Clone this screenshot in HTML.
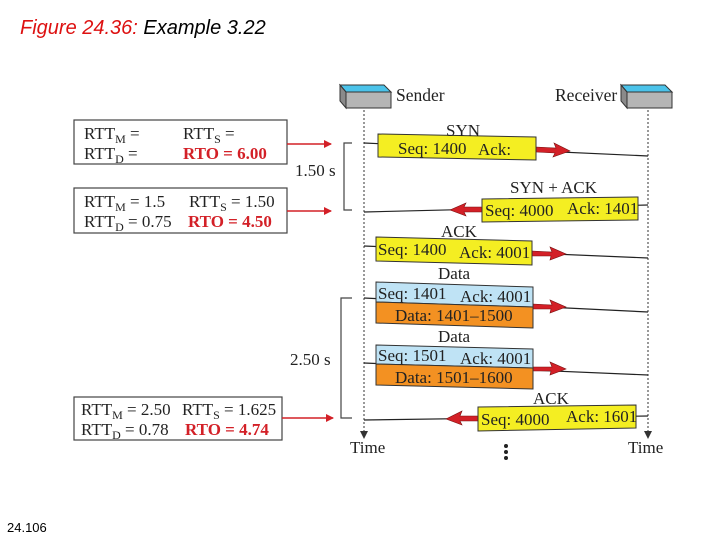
<!DOCTYPE html>
<html><head><meta charset="utf-8"><style>
html,body{margin:0;padding:0;background:#fff;width:720px;height:540px;overflow:hidden}
svg{display:block}
.s{font-family:"Liberation Serif",serif;fill:#222;white-space:pre}
</style></head><body>
<svg width="720" height="540" viewBox="0 0 720 540" xmlns="http://www.w3.org/2000/svg">
<defs>
<marker id="ra" markerWidth="8" markerHeight="8" refX="7" refY="4" orient="auto" markerUnits="userSpaceOnUse"><path d="M0,0 L8,4 L0,8 z" fill="#d32027"/></marker>
<marker id="ta" markerWidth="8" markerHeight="8" refX="7" refY="4" orient="auto" markerUnits="userSpaceOnUse"><path d="M0,0 L8,4 L0,8 z" fill="#333"/></marker>
</defs>
<text x="20" y="34" font-family="Liberation Sans,sans-serif" font-style="italic" font-size="20" style="white-space:pre"><tspan fill="#d11">Figure 24.36:</tspan><tspan fill="#000"> Example 3.22</tspan></text>
<text x="7" y="532" font-family="Liberation Sans,sans-serif" font-size="13" fill="#000">24.106</text>

<g stroke="#333" stroke-width="1">
<path d="M340,85 L384,85 L391,92 L346,92 Z" fill="#4bc3ea"/>
<path d="M346,92 L391,92 L391,108 L346,108 Z" fill="#b5b5b5"/>
<path d="M340,85 L346,92 L346,108 L340,101 Z" fill="#8a8a8a"/>
<path d="M621,85 L665,85 L672,92 L627,92 Z" fill="#4bc3ea"/>
<path d="M627,92 L672,92 L672,108 L627,108 Z" fill="#b5b5b5"/>
<path d="M621,85 L627,92 L627,108 L621,101 Z" fill="#8a8a8a"/>
</g>
<text x="396" y="101" class="s" font-size="17.5">Sender</text>
<text x="555" y="101" class="s" font-size="17.5">Receiver</text>

<line x1="364" y1="110" x2="364" y2="438" stroke="#333" stroke-dasharray="2,2" marker-end="url(#ta)"/>
<line x1="648" y1="110" x2="648" y2="438" stroke="#333" stroke-dasharray="2,2" marker-end="url(#ta)"/>
<text x="350" y="453" class="s" font-size="17">Time</text>
<text x="628" y="453" class="s" font-size="17">Time</text>
<circle cx="506" cy="446" r="2" fill="#222"/><circle cx="506" cy="452" r="2" fill="#222"/><circle cx="506" cy="458" r="2" fill="#222"/>

<g fill="#fff" stroke="#444" stroke-width="1.2">
<rect x="74" y="120" width="213" height="44"/>
<rect x="74" y="188" width="213" height="45"/>
<rect x="74" y="397" width="208" height="43"/>
</g>
<g class="s" font-size="17">
<text x="84" y="139">RTT<tspan font-size="12" dy="4">M</tspan><tspan dy="-4"> =</tspan></text>
<text x="84" y="159">RTT<tspan font-size="12" dy="4">D</tspan><tspan dy="-4">  =</tspan></text>
<text x="183" y="139">RTT<tspan font-size="12" dy="4">S</tspan><tspan dy="-4"> =</tspan></text>
<text x="183" y="159" fill="#d32027" font-weight="bold">RTO = 6.00</text>
<text x="84" y="207">RTT<tspan font-size="12" dy="4">M</tspan><tspan dy="-4"> = 1.5</tspan></text>
<text x="84" y="227">RTT<tspan font-size="12" dy="4">D</tspan><tspan dy="-4"> = 0.75</tspan></text>
<text x="189" y="207">RTT<tspan font-size="12" dy="4">S</tspan><tspan dy="-4"> = 1.50</tspan></text>
<text x="188" y="227" fill="#d32027" font-weight="bold">RTO = 4.50</text>
<text x="81" y="415">RTT<tspan font-size="12" dy="4">M</tspan><tspan dy="-4"> = 2.50</tspan></text>
<text x="81" y="435">RTT<tspan font-size="12" dy="4">D</tspan><tspan dy="-4"> = 0.78</tspan></text>
<text x="182" y="415">RTT<tspan font-size="12" dy="4">S</tspan><tspan dy="-4"> = 1.625</tspan></text>
<text x="185" y="435" fill="#d32027" font-weight="bold">RTO = 4.74</text>
</g>
<g stroke="#d32027" stroke-width="1.5">
<line x1="287" y1="144" x2="331" y2="144" marker-end="url(#ra)"/>
<line x1="287" y1="211" x2="331" y2="211" marker-end="url(#ra)"/>
<line x1="282" y1="418" x2="333" y2="418" marker-end="url(#ra)"/>
</g>
<path d="M352,143 L344,143 L344,210 L352,210" fill="none" stroke="#444" stroke-width="1.2"/>
<path d="M352,298 L341,298 L341,418 L352,418" fill="none" stroke="#444" stroke-width="1.2"/>
<text x="295" y="176" class="s" font-size="17">1.50 s</text>
<text x="290" y="365" class="s" font-size="17">2.50 s</text>

<g stroke="#222" stroke-width="1.2">
<line x1="364" y1="143" x2="648" y2="156"/>
<line x1="364" y1="212" x2="648" y2="205"/>
<line x1="364" y1="246" x2="648" y2="258"/>
<line x1="364" y1="298" x2="648" y2="312"/>
<line x1="364" y1="363" x2="648" y2="375"/>
<line x1="364" y1="420" x2="648" y2="416"/>
</g>
<g fill="#d32027" stroke="#7a1010" stroke-width="0.6">
<path d="M536,147 L556,148 L554,143 L570,151 L553,157 L555,153 L536,152 Z"/>
<path d="M482,207 L464,207 L466,203 L450,210 L466,216 L464,212 L482,212 Z"/>
<path d="M532,251 L552,252 L550,247 L566,254 L550,260 L551,256 L532,256 Z"/>
<path d="M533,304 L552,305 L550,300 L566,307 L550,313 L551,309 L533,309 Z"/>
<path d="M533,367 L552,367 L550,362 L566,369 L550,375 L551,371 L533,371 Z"/>
<path d="M478,416 L460,416 L462,411 L446,419 L462,425 L460,421 L478,421 Z"/>
</g>
<g stroke="#333" stroke-width="1">
<path d="M378,134 L536,137 L536,160 L378,157 Z" fill="#f4ee22"/>
<path d="M482,199 L638,197 L638,220 L482,222 Z" fill="#f4ee22"/>
<path d="M376,237 L532,241 L532,265 L376,261 Z" fill="#f4ee22"/>
<path d="M376,282 L533,287 L533,307 L376,302 Z" fill="#bfe3f5"/>
<path d="M376,302 L533,307 L533,328 L376,323 Z" fill="#f39122"/>
<path d="M376,345 L533,349 L533,368 L376,364 Z" fill="#bfe3f5"/>
<path d="M376,364 L533,368 L533,389 L376,385 Z" fill="#f39122"/>
<path d="M478,407 L636,405 L636,428 L478,431 Z" fill="#f4ee22"/>
</g>
<g class="s" font-size="17">
<text x="446" y="136">SYN</text>
<text x="398" y="154">Seq: 1400</text><text x="478" y="155">Ack:</text>
<text x="510" y="193">SYN + ACK</text>
<text x="485" y="216">Seq: 4000</text><text x="567" y="214">Ack: 1401</text>
<text x="441" y="237">ACK</text>
<text x="378" y="255">Seq: 1400</text><text x="459" y="258">Ack: 4001</text>
<text x="438" y="279">Data</text>
<text x="378" y="299">Seq: 1401</text><text x="460" y="302">Ack: 4001</text>
<text x="395" y="321">Data: 1401–1500</text>
<text x="438" y="342">Data</text>
<text x="378" y="361">Seq: 1501</text><text x="460" y="364">Ack: 4001</text>
<text x="395" y="383">Data: 1501–1600</text>
<text x="533" y="404">ACK</text>
<text x="481" y="425">Seq: 4000</text><text x="566" y="422">Ack: 1601</text>
</g>
</svg>
</body></html>
